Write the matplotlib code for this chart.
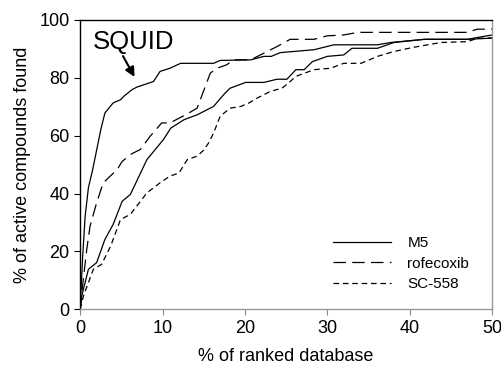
import matplotlib.pyplot as plt

plt.rcParams['font.family'] = ['Liberation Sans', 'DejaVu Sans']

# SQUID
squid_x = [0, 0.3, 0.6, 1.0, 1.5, 2.0, 2.5, 3.0, 4.0, 4.9, 5.3, 6.3, 6.9, 8.9, 9.7, 10.9,
           12.2, 16.2, 17.0, 20.7, 22.3, 23.2, 24.3, 28.4, 30.8, 36.1, 37.7, 41.8, 47.0, 50]
squid_y = [0, 18, 32, 42, 48, 55, 62, 67.8, 71.3, 72.4, 73.6, 75.9, 76.8, 78.7, 82.2, 83.3,
           85, 85, 86, 86.2, 87.4, 87.4, 88.7, 89.7, 91.4, 91.4, 92.2, 93.3, 93.3, 94.8]

# M5
m5_x = [0, 0.2, 1.0, 2.0, 3.0, 4.0, 5.1, 6.1, 8.1, 10.1, 11.0, 12.6, 14.2, 16.2, 17.4, 18.2,
        20.1, 22.3, 23.9, 25.1, 26.2, 27.2, 28.2, 30.0, 32.0, 33.0, 36.1, 38.1, 41.8, 47.0, 50]
m5_y = [0, 4.6, 13.8, 16.1, 24.1, 29.3, 37.3, 39.7, 51.7, 58.6, 62.6, 65.5, 67.2, 70.1, 74.1, 76.4,
        78.4, 78.4, 79.5, 79.5, 82.8, 82.8, 85.6, 87.4, 87.9, 90.2, 90.2, 92.2, 93.3, 93.3, 93.7]

# rofecoxib
rofe_x = [0, 0.2, 0.8, 1.2, 2.0, 2.8, 4.5, 5.1, 6.3, 7.3, 8.5, 9.9, 10.9, 12.8, 14.2, 15.8,
          16.6, 17.8, 18.6, 20.7, 22.3, 23.9, 25.5, 28.4, 30.0, 32.0, 33.7, 47.0, 48.2, 50]
rofe_y = [0, 5.7, 20.7, 28.7, 36.8, 43.7, 48.3, 51.1, 53.8, 55.2, 59.8, 64.4, 64.4, 67.2, 69.5, 81.6,
          83.3, 84.5, 86.2, 86.2, 88.5, 90.8, 93.3, 93.3, 94.5, 94.8, 95.7, 95.7, 96.8, 96.8]

# SC-558
sc_x = [0, 0.4, 1.6, 2.6, 3.7, 4.9, 6.1, 8.1, 9.7, 10.9, 12.0, 13.0, 14.2, 15.0, 15.6, 16.2,
        17.0, 18.2, 19.5, 20.5, 21.5, 23.1, 24.5, 25.3, 26.2, 28.4, 30.4, 32.0, 34.1, 36.1,
        38.1, 40.6, 42.2, 43.8, 47.0, 48.2, 50]
sc_y = [0, 4.6, 13.8, 15.5, 21.8, 31.0, 32.8, 40.2, 43.7, 46.0, 47.1, 51.7, 52.9, 55.0, 57.5, 60.9,
        66.7, 69.5, 70.1, 71.3, 73.0, 75.3, 76.4, 78.2, 80.5, 82.8, 83.3, 85.0, 85.0, 87.4,
        89.1, 90.6, 91.4, 92.2, 92.5, 93.6, 93.8]

fig = plt.figure(figsize=(5.01, 3.69), dpi=100)
ax = fig.add_axes([0.16, 0.162, 0.822, 0.784])

ax.plot(squid_x, squid_y, color='black', lw=0.9)
ax.plot(m5_x, m5_y, color='black', lw=0.9, label='M5')
ax.plot(rofe_x, rofe_y, color='black', lw=0.9, dashes=(10, 5), label='rofecoxib')
ax.plot(sc_x, sc_y, color='black', lw=0.9, dashes=(4.5, 3), label='SC-558')

ax.set_xlim(0, 50)
ax.set_ylim(0, 100)
ax.set_xticks([0, 10, 20, 30, 40, 50])
ax.set_yticks([0, 20, 40, 60, 80, 100])
ax.tick_params(labelsize=13, direction='out', length=4, width=0.8)
ax.tick_params(axis='x', color='#888888')
ax.tick_params(axis='y', color='black')

ax.spines['left'].set_color('black')
ax.spines['top'].set_color('black')
ax.spines['right'].set_color('#999999')
ax.spines['bottom'].set_color('#999999')
for s in ax.spines.values():
    s.set_linewidth(1.0)

ax.set_xlabel('% of ranked database', fontsize=13, labelpad=8)
ax.set_ylabel('% of active compounds found', fontsize=13, labelpad=6)

ax.text(1.5, 92.5, 'SQUID', fontsize=18.5, ha='left', va='center')
ax.annotate('', xy=(6.6, 80.3), xytext=(5.2, 87.5),
            arrowprops=dict(arrowstyle='-|>', color='black', lw=1.5,
                            shrinkA=0, shrinkB=0, mutation_scale=14))

leg = ax.legend(loc='lower right', frameon=False, fontsize=11,
                handlelength=3.8, handletextpad=1.1, labelspacing=0.42,
                bbox_to_anchor=(0.978, 0.015))

fig.savefig('out.png', dpi=100)
